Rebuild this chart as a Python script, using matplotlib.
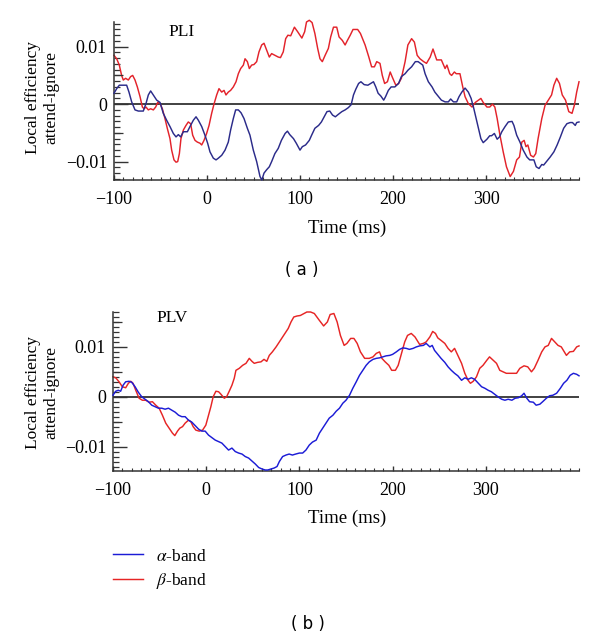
import numpy as np
import matplotlib
matplotlib.use("Agg")
import matplotlib.pyplot as plt
from matplotlib.ticker import MultipleLocator, FixedLocator
import matplotlib.transforms as mtrans

plt.rcParams['font.family'] = ['Liberation Serif', 'DejaVu Serif']
plt.rcParams['mathtext.fontset'] = 'stix'
plt.rcParams['axes.unicode_minus'] = True

# ---------------- data (values in units of 1e-3) ----------------
# Panel (a) PLI, beta band (red)
pli_beta_t = [-100, -97.1, -94.3, -91.8, -90, -87.5, -84.6, -82.1, -79.9, -77.4, -74.9, -72, -69.5, -67.7, -65.6,
              -63.1, -60.6, -57.7, -55.2, -53, -50.5, -48, -45.2, -42.7, -39.8, -38, -35.5, -33.3, -31.5, -29.7,
              -28, -25.4, -22.6, -20.1, -17.6, -15.4, -12.9, -10.4, -7.5, -5.7, -3.2, -0.4, 2.2, 5, 7.5, 10.4,
              12.9, 15.8, 18.3, 20.4, 22.9, 25.4, 28.3, 31.2, 33.7, 36.2, 39.1, 40.9, 43.4, 45.5, 48, 50.5, 53.4,
              55.9, 58.8, 61.3, 64.2, 67, 69.5, 73, 76.6, 79, 82, 84.6, 87, 90, 94, 97.5, 102, 105, 107, 110, 113,
              116, 119, 121.5, 124, 127, 130.5, 133, 136, 139.5, 142, 145.5, 148.5, 151, 154, 157, 162, 165, 170,
              174, 177, 180, 182.5, 186, 188.5, 191, 194, 197, 199, 203, 206, 209, 213, 216, 220, 223, 226, 229,
              233, 236, 240, 243, 247, 252, 256, 258, 261, 263, 266, 268, 272, 275, 277.5, 281, 285, 288.5, 292,
              294.5, 297, 301, 304, 307, 309.5, 312, 315, 318.5, 322, 326, 329.5, 333, 336, 338.5, 341, 343, 345,
              348, 351, 353.5, 356, 360, 363.5, 367, 370.5, 373, 376, 379, 382, 385.5, 389, 392.5, 395, 397.5, 400]
pli_beta_v = [8.5, 7.9, 6.8, 5.0, 4.2, 4.5, 4.2, 4.8, 5.0, 4.2, 3.0, 1.3, -0.5, -0.8, -0.5,
              -1.0, -0.8, -1.0, -0.5, 0.3, 0.1, -0.8, -2.5, -4.2, -6.0, -8.0, -9.7, -10.1, -10.0, -8.6,
              -6.0, -4.5, -3.7, -3.1, -3.4, -5.4, -6.3, -6.6, -6.8, -7.1, -6.3, -5.1, -3.7, -1.6, 0.0, 1.6,
              2.7, 2.1, 2.4, 1.6, 2.1, 2.4, 3.0, 3.9, 5.3, 6.2, 6.8, 7.9, 7.4, 6.2, 6.8, 6.9, 7.4,
              9.1, 10.3, 10.6, 9.4, 8.2, 8.8, 8.5, 8.2, 8.1, 9.1, 11.4, 12.0, 11.9, 13.4, 12.6, 11.5, 12.6, 14.3, 14.6, 14.2,
              12.3, 9.7, 7.9, 7.4, 8.5, 9.7, 11.7, 13.4, 13.4, 11.7, 11.1, 10.3, 11.1, 12.0, 13.0, 13.0, 12.3, 10.3,
              8.2, 6.5, 6.5, 7.4, 7.1, 5.0, 3.6, 3.9, 5.6, 4.8, 3.3, 3.6, 4.5, 7.4, 10.3, 11.4, 10.8, 8.5, 7.9,
              7.4, 7.1, 8.2, 9.6, 7.7, 7.7, 6.2, 6.8, 5.3, 5.0, 5.6, 5.3, 5.3, 3.0, 1.3, 0.1, -0.5, 0.3, 0.7,
              1.0, 0.3, -0.5, -0.5, 0.0, -0.5, -2.5, -5.4, -8.3, -10.9, -12.6, -11.7, -9.7, -9.2, -6.6, -6.3, -7.4, -7.1,
              -8.9, -9.2, -8.6, -6.0, -2.5, -0.2, 0.7, 1.6, 3.3, 4.5, 3.6, 1.6, 0.7, -1.3, -1.6, -0.2, 2.1, 3.9]

# Panel (a) PLI, alpha band (navy)
pli_alpha_t = [-100, -97.1, -94.3, -90, -86.4, -83.9, -81, -77.4, -73.8, -68.5, -65.6, -63.1, -60.6, -57.7, -54.1,
               -50.5, -47, -43.4, -39.8, -36.2, -33.3, -30.8, -28.3, -25.4, -21.1, -18.3, -14.7, -11.8, -9.3, -5.7,
               -2.2, 0.7, 3.2, 6.8, 9.7, 12.2, 15.8, 19.4, 22.9, 25.4, 28.3, 30.8, 33.7, 36.6, 39.8, 43.4, 46.2,
               49.8, 53.4, 57, 59, 61.3, 64.2, 67, 69.5, 73, 76.6, 80, 84, 86.5, 89, 93, 96, 100, 102.5, 106, 110,
               112.5, 116, 120, 123, 126, 129, 132, 135, 138, 141, 145, 148.5, 152, 155, 157.5, 160, 163, 165.5,
               169, 173, 176, 179, 181.5, 184, 187, 190, 192, 195, 198, 202, 206, 209, 213, 216, 220, 224, 227,
               232, 234.5, 238, 242, 245, 249, 252, 256, 259.5, 262, 265, 268.5, 271, 274, 277.5, 281, 284, 286.5,
               289, 292, 294.5, 297, 301, 304, 306, 309, 312, 314.5, 317, 320.5, 324, 328, 330, 333, 336.5, 340,
               344, 347, 351.5, 354, 357, 360, 362, 365, 369, 373, 376.5, 380, 383.5, 387, 390.5, 393, 396, 397.5, 400]
pli_alpha_v = [1.9, 2.7, 3.3, 3.3, 3.3, 2.1, 0.4, -1.0, -1.2, -1.2, 0.1, 1.6, 2.3, 1.6, 0.7,
               0.3, -1.6, -2.8, -3.9, -5.1, -5.7, -5.3, -5.7, -4.8, -4.8, -3.9, -2.8, -2.2, -2.8, -3.9,
               -5.4, -6.8, -8.3, -9.4, -9.7, -9.4, -8.9, -8.0, -6.6, -4.5, -2.5, -1.0, -1.0, -1.5, -2.5, -4.2, -5.4,
               -8.0, -10.0, -12.6, -13.2, -12.0, -11.4, -10.9, -10.0, -8.6, -7.7, -6.3, -5.1, -4.7, -5.3, -6.0, -6.8, -8.0, -7.4, -7.1, -6.3,
               -5.4, -4.2, -3.7, -3.1, -2.2, -1.3, -1.2, -1.9, -2.2, -1.8, -1.3, -1.0, -0.6, -0.1, 1.6, 2.6, 3.6, 3.9,
               3.4, 3.3, 3.6, 3.9, 3.0, 1.9, 1.4, 0.7, 1.3, 2.4, 3.0, 3.0, 3.6, 4.8, 5.3, 5.9, 6.5, 7.4, 7.4,
               6.8, 5.3, 3.9, 3.0, 2.1, 1.3, 0.7, 0.4, 0.4, 0.9, 0.4, 0.4, 1.3, 2.1, 2.8, 2.1, 1.0, -0.5,
               -2.2, -4.2, -6.0, -6.7, -6.1, -5.5, -5.5, -5.1, -6.1, -5.7, -4.8, -3.9, -3.1, -3.0, -3.7, -5.4, -6.6, -8.0,
               -9.2, -9.7, -9.7, -10.9, -11.2, -10.5, -10.6, -10.0, -9.2, -8.3, -7.1, -5.7, -4.2, -3.4, -3.2, -3.2, -3.7, -3.2, -3.1]

# Panel (b) PLV, beta band (red)
plv_beta_t = [-100, -97.1, -93.5, -90, -86.4, -83.5, -81, -78.5, -75.6, -72, -68.5, -64.9, -61.3, -57.7, -54.1,
              -50.5, -47, -43.4, -39.8, -36.2, -33.7, -30.8, -28.3, -25.4, -22.6, -19, -16.5, -14, -11.1, -7.5,
              -3.9, -0.4, 2.5, 5, 7.5, 10.4, 13.3, 15.8, 19.4, 21.9, 24.7, 27.6, 30.1, 31.9, 35.5, 39.1, 42.7,
              46.2, 49.1, 51.6, 55.2, 58.8, 62, 65, 67.7, 71, 75, 78.5, 82, 85.6, 88, 91, 94, 97.5, 101, 105, 108,
              112, 116, 121.5, 126, 130, 133, 137, 140.5, 144, 148, 151, 155, 158.5, 162, 165.5, 170, 175, 179,
              182.5, 186, 188.5, 192, 196, 199, 203, 206, 209, 213, 216, 220, 224, 227, 229, 233, 236, 240, 243,
              246, 248.5, 252, 256, 259.5, 263, 266.5, 270, 274, 277.5, 281, 283.5, 286.5, 290, 293.5, 297, 301,
              304, 308, 311.5, 315, 318.5, 322, 326, 329.5, 333, 336.5, 341, 345, 349, 352, 356, 360, 363.5, 367,
              370.5, 374, 377.5, 381, 386.5, 390, 394, 397.5, 400]
plv_beta_v = [4.0, 3.8, 3.0, 2.0, 1.8, 2.7, 3.1, 2.7, 1.3, -0.3, -0.7, -0.7, -1.1, -1.0, -1.7,
              -2.3, -3.7, -5.3, -6.3, -7.3, -7.8, -6.9, -6.3, -6.0, -5.3, -4.7, -5.0, -6.0, -6.7, -6.9,
              -6.7, -5.7, -3.7, -2.0, 0.0, 1.1, 1.0, 0.5, -0.3, 0.0, 1.1, 2.3, 3.7, 5.3, 5.7, 6.3, 6.7,
              7.7, 7.1, 6.7, 6.9, 7.0, 7.5, 7.1, 8.3, 9.0, 10.0, 11.0, 12.0, 13.0, 13.7, 15.0, 16.0, 16.2, 16.3, 16.7, 17.0,
              17.0, 16.7, 15.3, 14.2, 15.0, 16.5, 16.7, 15.0, 12.3, 10.3, 10.7, 11.7, 11.7, 10.7, 9.0, 7.7, 7.7, 8.0,
              8.7, 9.0, 7.7, 7.0, 6.3, 5.3, 5.3, 6.3, 8.3, 11.0, 12.3, 12.7, 12.0, 11.1, 10.5, 10.7, 11.0, 12.0, 13.1,
              12.7, 11.8, 11.3, 10.7, 9.7, 9.0, 9.7, 8.3, 6.7, 4.7, 3.3, 2.7, 3.1, 4.0, 5.7, 6.3, 7.3,
              8.0, 7.3, 6.7, 5.3, 5.0, 4.7, 4.7, 4.7, 4.7, 5.7, 6.2, 6.0, 5.0, 5.7, 7.3, 9.0, 10.0, 10.3,
              11.7, 11.0, 10.3, 10.0, 8.3, 9.0, 9.1, 10.0, 10.2]

# Panel (b) PLV, alpha band (blue)
plv_alpha_t = [-100, -97.1, -94.3, -91.8, -89.2, -86.4, -82.8, -79.9, -76.3, -72.8, -69.2, -65.6, -62, -58.4, -54.8,
               -51.3, -47.7, -44.1, -40.5, -36.9, -33.3, -29.7, -26.2, -22.6, -19, -15.4, -11.8, -8.2, -4.7, -1.1,
               2.5, 6.1, 9.7, 13.3, 16.8, 20.4, 24, 27.6, 31.2, 34.8, 38.4, 41.9, 45.5, 49.1, 52.7, 56.3, 59.9,
               63.4, 66, 69.5, 73, 76, 78.5, 82, 85.6, 89, 92.5, 96, 100, 103.5, 107, 110.6, 114, 118, 121.5, 125,
               128.6, 132, 136, 139.5, 143, 146.6, 150, 153.8, 157.3, 161, 164.5, 168, 171.6, 175, 179, 182.5, 186,
               189.6, 193, 197, 200, 204, 207.5, 211, 214.7, 218, 222, 225.5, 229, 233, 236, 240, 242.5, 245, 248.5,
               252, 256, 259.5, 263, 266.5, 270, 274, 277.5, 281, 284.5, 288, 292, 295.5, 299, 302.5, 306, 309.5,
               313, 317, 320.5, 324, 328, 331.5, 335, 338.5, 341, 344, 347, 351, 354, 358, 361, 365, 368.5, 372,
               376, 380, 383.5, 387, 390.5, 394, 397.5, 400]
plv_alpha_v = [0.3, 1.1, 1.3, 1.1, 2.3, 3.0, 3.1, 2.9, 2.0, 0.9, 0.0, -0.5, -1.0, -1.7, -2.0,
               -2.3, -2.3, -2.5, -2.3, -2.7, -3.1, -3.7, -4.0, -4.0, -4.7, -5.1, -5.8, -6.5, -6.9, -6.9,
               -7.7, -8.2, -8.7, -9.0, -9.3, -10.0, -10.7, -10.3, -11.0, -11.3, -11.5, -12.0, -12.3, -12.9, -13.5, -14.2, -14.5,
               -14.7, -14.7, -14.5, -14.3, -14.0, -13.0, -12.0, -11.7, -11.5, -11.7, -11.5, -11.3, -11.3, -10.7, -9.7, -9.1, -8.7, -7.3, -6.3,
               -5.3, -4.3, -3.7, -2.9, -2.3, -1.3, -0.7, 0.3, 1.7, 3.0, 4.3, 5.3, 6.3, 7.0, 7.5, 7.7, 7.8,
               8.0, 8.2, 8.3, 8.5, 9.0, 9.5, 9.8, 9.7, 9.5, 9.7, 10.0, 10.2, 10.3, 10.7, 10.0, 10.3, 9.3, 8.5,
               7.7, 6.9, 6.0, 5.3, 4.7, 4.2, 3.3, 3.8, 3.5, 3.8, 3.5, 2.7, 2.0, 1.7, 1.3, 1.0, 0.5,
               0.0, -0.5, -0.7, -0.5, -0.7, -0.3, -0.2, 0.2, 0.7, -0.3, -1.0, -1.1, -1.7, -1.5, -1.0, -0.3, 0.2, 0.3,
               0.7, 1.7, 2.7, 3.3, 4.3, 4.7, 4.5, 4.2]

panel_titles = ["PLI", "PLV"]
panel_labels = ["( a )", "( b )"]
legend_labels = [r"$\alpha$-band", r"$\beta$-band"]
x_label = "Time (ms)"
y_label = "Local efficiency\nattend-ignore"
xticks = [-100, 0, 100, 200, 300]
yticks = [-0.01, 0, 0.01]
ytick_labels = ["\u22120.01", "0", "0.01"]
xtick_labels = ["\u2212100", "0", "100", "200", "300"]

SCALE = 1e-3
W, H = 600, 640
FS = 12.5
FS_TICK = 13

fig = plt.figure(figsize=(W / 100, H / 100), dpi=100)

def px_axes(l, t, r, b):
    return fig.add_axes([l / W, 1 - b / H, (r - l) / W, (b - t) / H])

ax1 = px_axes(114, 22, 579, 180)
ax2 = px_axes(113, 312, 579, 471)

cfg = [
    (ax1, pli_alpha_t, pli_alpha_v, pli_beta_t, pli_beta_v, "#2b2b8a", "#e3232b", (-0.0132, 0.0143), (-0.005, 0.005)),
    (ax2, plv_alpha_t, plv_alpha_v, plv_beta_t, plv_beta_v, "#1c1cd6", "#e62525", (-0.0149, 0.0170), (-0.005, 0.005, 0.015)),
]

for i, (ax, ta, va, tb, vb, ca, cb, ylim, mids) in enumerate(cfg):
    ax.axhline(0, color="#333333", lw=1.3, zorder=1)
    la, = ax.plot(ta, np.array(va) * SCALE, color=ca, lw=1.05, clip_on=False, zorder=3)
    lb, = ax.plot(tb, np.array(vb) * SCALE, color=cb, lw=1.05, clip_on=False, zorder=2)
    ax.set_xlim(-100, 400)
    ax.set_ylim(*ylim)
    for s in ("top", "right"):
        ax.spines[s].set_visible(False)
    for s in ("left", "bottom"):
        ax.spines[s].set_linewidth(1.1)
        ax.spines[s].set_color("#333333")
    ax.xaxis.set_major_locator(FixedLocator(xticks))
    ax.set_xticklabels(xtick_labels)
    ax.xaxis.set_minor_locator(MultipleLocator(10))
    ax.yaxis.set_major_locator(FixedLocator(yticks))
    ax.set_yticklabels(ytick_labels)
    ax.yaxis.set_minor_locator(MultipleLocator(0.001))
    ax.tick_params(axis="y", which="major", direction="in", length=10, width=1.0, pad=5,
                   labelsize=FS_TICK, color="#333333")
    ax.tick_params(axis="y", which="minor", direction="in", length=4.3, width=0.9, color="#333333")
    ax.tick_params(axis="x", which="major", direction="in", length=3.5, width=1.0, pad=8,
                   labelsize=FS_TICK, color="#333333")
    ax.tick_params(axis="x", which="minor", direction="in", length=2, width=0.8, color="#333333")
    ax.patch.set_alpha(0)
    # medium ticks at 0.005 steps
    tr = mtrans.blended_transform_factory(ax.transAxes, ax.transData)
    for m in mids:
        ax.plot([0, 9.0 / ((579 - 114))], [m, m], transform=tr, color="#333333", lw=0.9,
                clip_on=False, zorder=4, solid_capstyle="butt")
    if i == 1:
        handles = [la, lb]

ax1.text(0.146, 0.935, panel_titles[0], transform=ax1.transAxes, ha="center", va="center", fontsize=FS)
ax2.text(0.127, 0.965, panel_titles[1], transform=ax2.transAxes, ha="center", va="center", fontsize=FS)

for yc in (97.5, 392.5):
    fig.text(42.5 / W, 1 - yc / H, y_label, rotation=90, ha="center", va="center",
             fontsize=FS, linespacing=1.2)
for yc in (228, 518):
    fig.text(347 / W, 1 - yc / H, x_label, ha="center", va="center", fontsize=13.5)

fig.text(302 / W, 1 - 270 / H, panel_labels[0], ha="center", va="center", fontsize=12,
         family=["DejaVu Sans"])
fig.text(308 / W, 1 - 624 / H, panel_labels[1], ha="center", va="center", fontsize=12,
         family=["DejaVu Sans"])

fig.legend(handles, legend_labels, loc="center left", bbox_to_anchor=(113 / W, 1 - 569.5 / H),
           frameon=False, fontsize=FS, borderpad=0, borderaxespad=0, handlelength=1.75,
           handletextpad=0.7, labelspacing=0.35)

fig.savefig("out.png", dpi=100)
